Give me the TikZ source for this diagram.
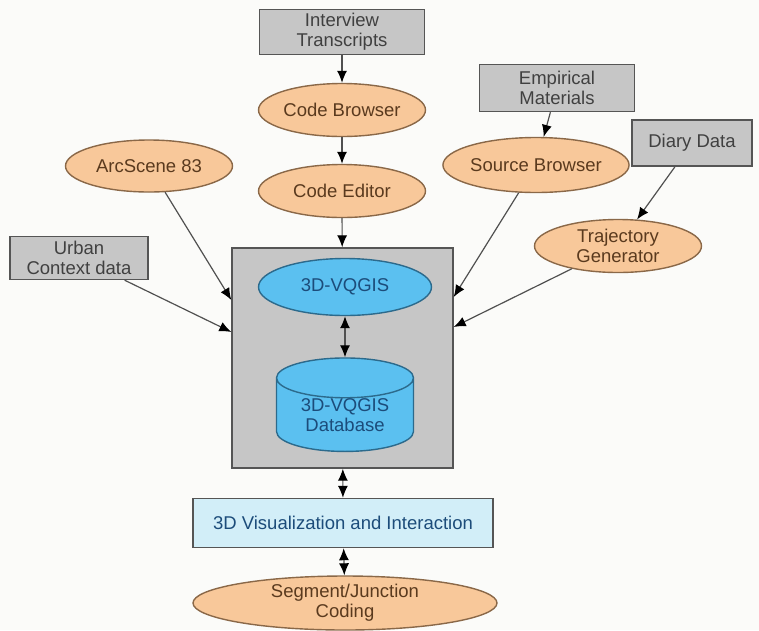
\documentclass[tikz,border=0pt]{standalone}
\usepackage{fontspec}
\setmainfont{Liberation Sans}
\usetikzlibrary{shapes.geometric,arrows.meta}
\definecolor{bgcol}{HTML}{FBFBF9}
\definecolor{orfill}{HTML}{F8C89A}
\definecolor{ordraw}{HTML}{8A6848}
\definecolor{ortext}{HTML}{5A3A1E}
\definecolor{grfill}{HTML}{C6C6C6}
\definecolor{grdraw}{HTML}{555555}
\definecolor{blfill}{HTML}{5BC0F0}
\definecolor{bldraw}{HTML}{2C6A8C}
\definecolor{bltext}{HTML}{1C4C7A}
\definecolor{lbfill}{HTML}{D2EEF8}
\definecolor{lncol}{HTML}{505050}
\begin{document}
\begin{tikzpicture}[x=1pt,y=-1pt,
  font=\fontsize{18.5}{20}\selectfont,
  tool/.style={ellipse, draw=ordraw, line width=1.4pt, fill=orfill, text=ortext, inner sep=0pt, align=center},
  datasrc/.style={rectangle, draw=grdraw, line width=1.4pt, fill=grfill, text=black!75, inner sep=0pt, align=center},
  core/.style={ellipse, draw=bldraw, line width=1.4pt, fill=blfill, text=bltext, inner sep=0pt, align=center},
  flow/.style={draw=lncol, line width=1.2pt, -{Latex[length=12pt,width=10pt,color=black]}},
  both/.style={draw=lncol, line width=1.2pt, {Latex[length=12pt,width=10pt,color=black]}-{Latex[length=12pt,width=10pt,color=black]}}]
\fill[bgcol] (0,0) rectangle (759,630);
\useasboundingbox (0,0) rectangle (759,630);
% inputs
\node[datasrc, minimum width=165pt, minimum height=45pt] (interview) at (342,32) {Interview\\Transcripts};
\node[datasrc, minimum width=155pt, minimum height=47pt] (empirical) at (557,88) {Empirical\\Materials};
\node[datasrc, minimum width=120pt, minimum height=46pt] (diary) at (692,143) {Diary Data};
\node[datasrc, minimum width=138pt, minimum height=43pt] (urban) at (79,258) {Urban\\Context data};
% tools
\node[tool, minimum width=167pt, minimum height=53pt] (codebrowser) at (342,110) {Code Browser};
\node[tool, minimum width=167pt, minimum height=53pt] (codeeditor) at (342,191) {Code Editor};
\node[tool, minimum width=167pt, minimum height=52pt] (arcscene) at (149,166) {ArcScene 83};
\node[tool, minimum width=168pt, minimum height=55pt] (sourcebrowser) at (536,165) {Source Browser};
\node[tool, minimum width=167pt, minimum height=53pt] (trajectory) at (618,246) {Trajectory\\Generator};
% system
\node[rectangle, draw=grdraw, line width=1.4pt, fill=grfill, minimum width=221pt, minimum height=220pt] (system) at (342.5,358) {};
\node[core, minimum width=173pt, minimum height=57pt] (vqgis) at (345,287) {3D-VQGIS};
\node[cylinder, shape border rotate=90, aspect=0.45, draw=bldraw, line width=1.4pt, fill=blfill, text=bltext, align=center, inner xsep=0pt, inner ysep=0pt, minimum width=137pt, minimum height=90pt] (database) at (345,415) {3D-VQGIS\\Database};
\node[rectangle, draw=grdraw, line width=1.4pt, fill=lbfill, text=bltext, minimum width=300pt, minimum height=49pt] (visual) at (343,523) {3D Visualization and Interaction};
\node[tool, minimum width=304pt, minimum height=54pt] (segment) at (345,603) {Segment/Junction\\Coding};
% connectors
\draw[flow] (interview) -- (codebrowser);
\draw[flow] (codebrowser) -- (codeeditor);
\draw[flow] (codeeditor) -- (system);
\draw[flow] (empirical) -- (sourcebrowser);
\draw[flow] (diary) -- (trajectory);
\draw[flow] (arcscene) -- (system.west |- 0,300);
\draw[flow] (urban) -- (system.west |- 0,332);
\draw[flow] (sourcebrowser) -- (system.east |- 0,297);
\draw[flow] (trajectory) -- (system.east |- 0,327);
\draw[both] (vqgis) -- (database);
\draw[both] (system) -- (visual);
\draw[both] (visual) -- (segment);
\end{tikzpicture}
\end{document}
